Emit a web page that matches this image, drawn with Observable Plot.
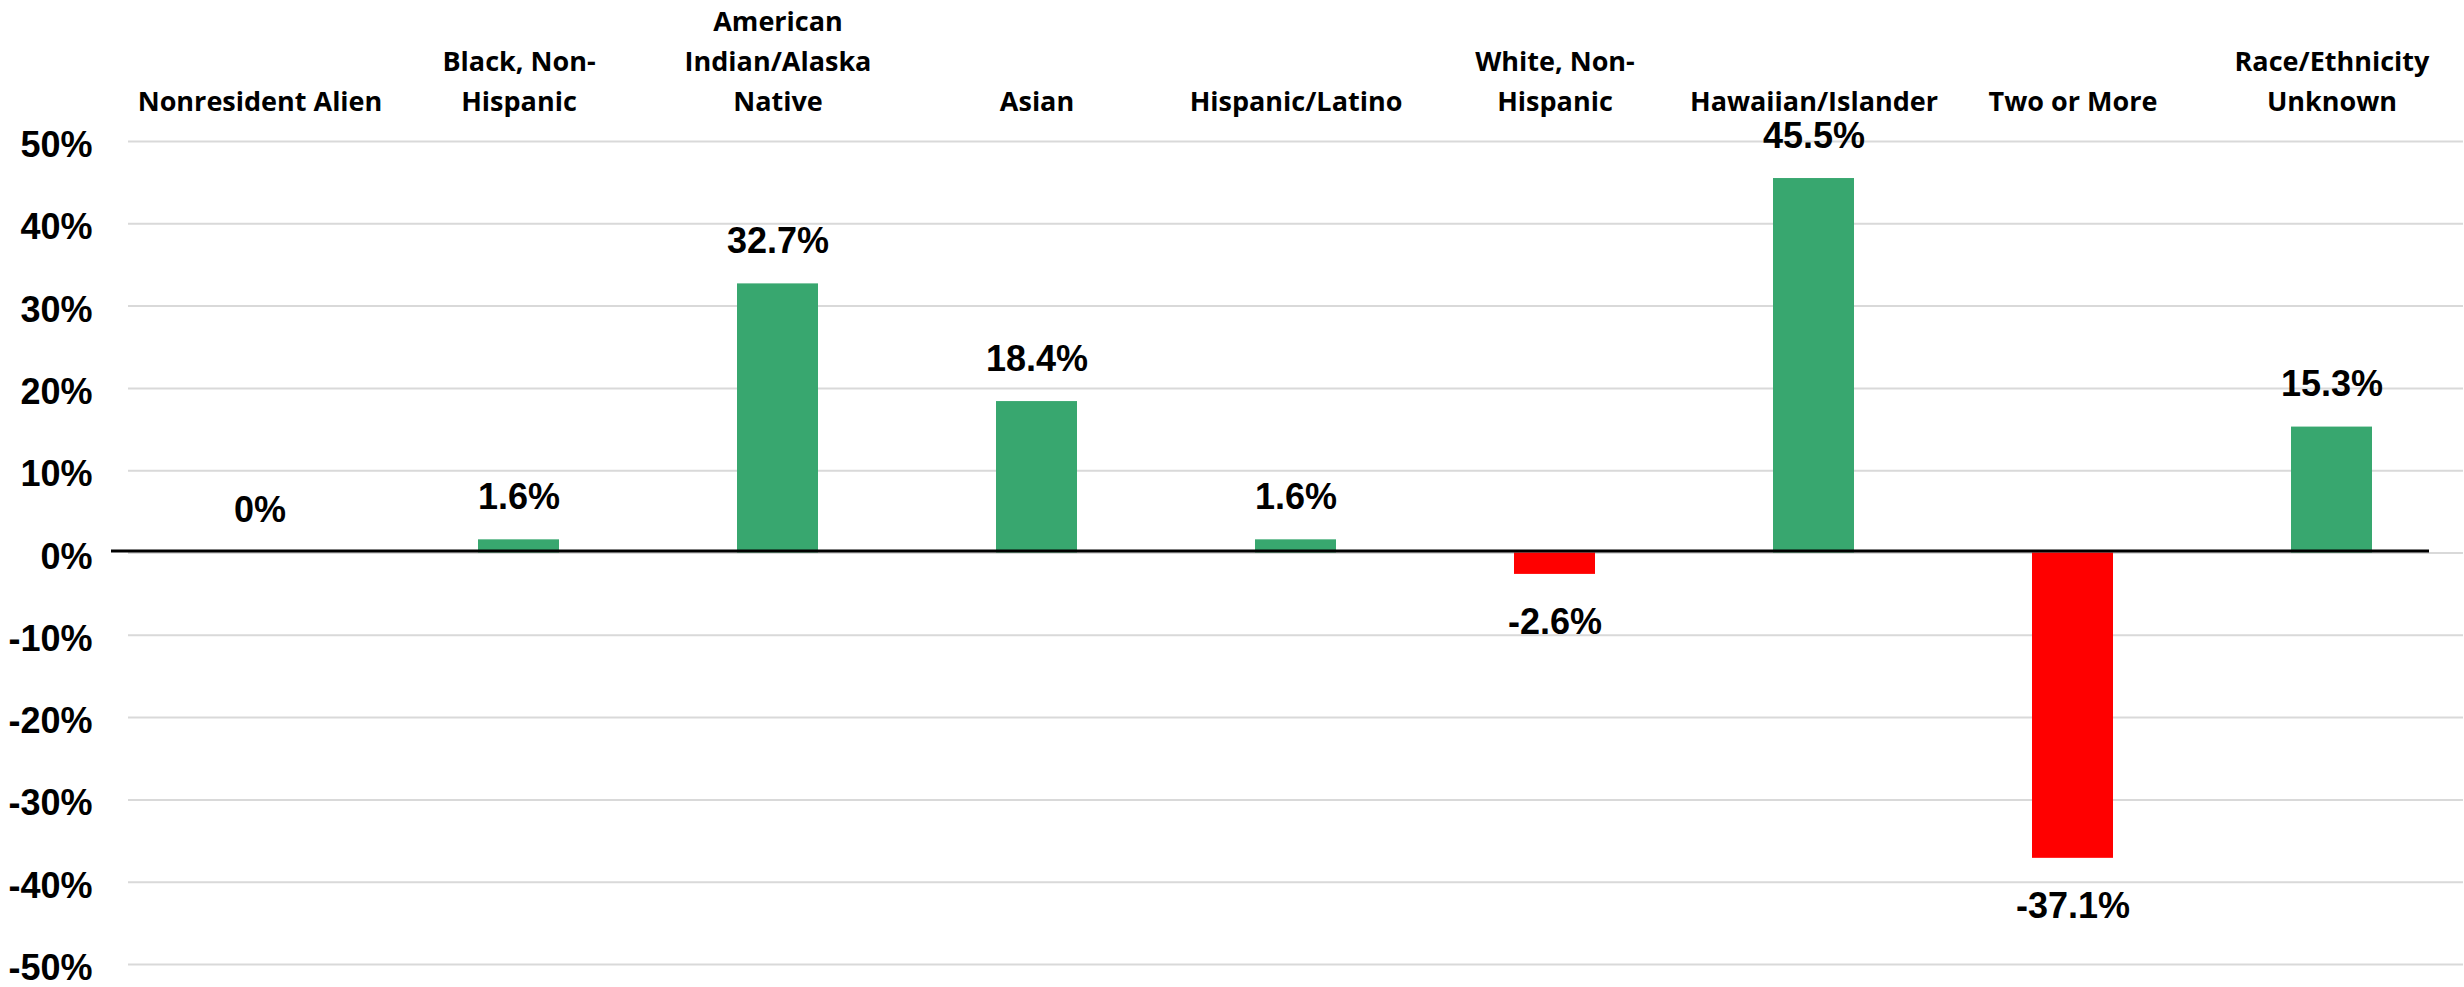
<!DOCTYPE html>
<html><head><meta charset="utf-8">
<script src="https://cdn.jsdelivr.net/npm/d3@7"></script>
<script src="https://cdn.jsdelivr.net/npm/@observablehq/plot@0.6"></script>
<style>body{margin:0;background:#fff}</style>
</head><body><div id="chart"></div>
<script>
const categories = ["Nonresident Alien", "Black, Non-Hispanic", "American Indian/Alaska Native", "Asian", "Hispanic/Latino", "White, Non-Hispanic", "Hawaiian/Islander", "Two or More", "Race/Ethnicity Unknown"];
const categoryLabels = ["Nonresident Alien", "Black, Non-\nHispanic", "American\nIndian/Alaska\nNative", "Asian", "Hispanic/Latino", "White, Non-\nHispanic", "Hawaiian/Islander", "Two or More", "Race/Ethnicity\nUnknown"];
const values = [0, 1.6, 32.7, 18.4, 1.6, -2.6, 45.5, -37.1, 15.3];
const valueLabels = ["0%", "1.6%", "32.7%", "18.4%", "1.6%", "-2.6%", "45.5%", "-37.1%", "15.3%"];
const yTicks = [-50, -40, -30, -20, -10, 0, 10, 20, 30, 40, 50];

const data = categories.map((c, i) => ({category: c, label: categoryLabels[i], value: values[i], text: valueLabels[i]}));
const pos = data.filter(d => d.value >= 0);
const neg = data.filter(d => d.value < 0);

const valueFont = {fontSize: 36, fontWeight: 700, fontFamily: "Liberation Sans, Arial, sans-serif", fill: "#000"};

const chart = Plot.plot({
  width: 2464, height: 987,
  marginTop: 141, marginBottom: 23, marginLeft: 128, marginRight: 1,
  style: {background: "white", overflow: "visible", fontFamily: "Liberation Sans, Arial, sans-serif", fontSize: "36px", fontWeight: "bold", color: "#000"},
  x: {domain: categories, paddingInner: 0.6875, paddingOuter: 0.34375, axis: null},
  y: {domain: [-50, 50], axis: null},
  marks: [
    Plot.ruleY(yTicks, {stroke: "#d9d9d9", strokeWidth: 2}),
    Plot.axisY(yTicks, {tickSize: 0, tickPadding: 36, tickFormat: d => d + "%", dy: 4, label: null, fontSize: 36, fontWeight: "bold", fill: "#000"}),
    Plot.barY(pos, {x: "category", y: "value", fill: "#38a76f"}),
    Plot.barY(neg, {x: "category", y: "value", fill: "#ff0000"}),
    Plot.ruleY([0], {stroke: "#000", strokeWidth: 3, insetLeft: -17, insetRight: 34, dy: -2}),
    Plot.text(pos, {x: "category", y: "value", text: "text", lineAnchor: "bottom", dy: -31, ...valueFont}),
    Plot.text(neg, {x: "category", y: "value", text: "text", lineAnchor: "top", dy: 34, ...valueFont}),
    Plot.text(data, {x: "category", text: "label", frameAnchor: "top", lineAnchor: "bottom", dy: -31, lineHeight: 1.48, fontSize: 27, fontWeight: 700, fontFamily: "Open Sans, sans-serif", fill: "#000"})
  ]
});
document.getElementById("chart").appendChild(chart);
</script>
</body></html>
